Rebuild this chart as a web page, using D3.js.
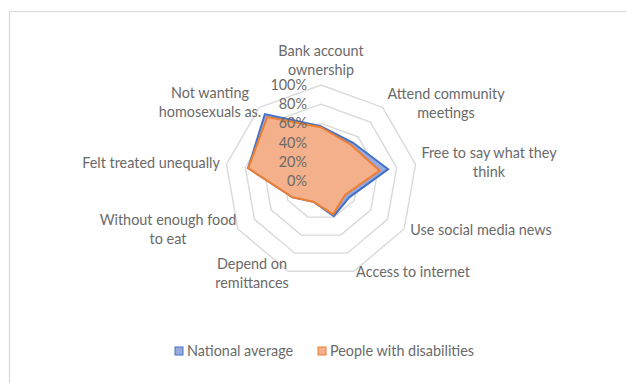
<!DOCTYPE html>
<meta charset="utf-8">
<title>Radar chart</title>
<style>
body { margin: 0; background: #fff; }
svg { font-family: Lato, "Open Sans", sans-serif; font-size: 14.4px; }
.grid { fill: none; stroke: #d9d9d9; stroke-width: 1.4px; }
.ring-label { fill: #6a6a6a; text-anchor: end; }
.cat-label { fill: #6a6a6a; text-anchor: middle; }
.legend text { fill: #6a6a6a; }
</style>
<body>
<script src="https://d3js.org/d3.v7.min.js"></script>
<script>

var categories = [
  "Bank account ownership",
  "Attend community meetings",
  "Free to say what they think",
  "Use social media news",
  "Access to internet",
  "Depend on remittances",
  "Without enough food to eat",
  "Felt treated unequally",
  "Not wanting homosexuals as."
];

// label lines as wrapped in the picture
var labelLines = [
  ["Bank account", "ownership"],
  ["Attend community", "meetings"],
  ["Free to say what they", "think"],
  ["Use social media news"],
  ["Access to internet"],
  ["Depend on", "remittances"],
  ["Without enough food", "to eat"],
  ["Felt treated unequally"],
  ["Not wanting", "homosexuals as."]
];

var nationalAverage = [0.57, 0.52, 0.71, 0.34, 0.39, 0.23, 0.34, 0.77, 0.91];
var disabilities    = [0.56, 0.49, 0.62, 0.29, 0.37, 0.23, 0.34, 0.77, 0.87];

var ringTicks = [0, 0.2, 0.4, 0.6, 0.8, 1.0];

var seriesNames = ["National average", "People with disabilities"];

var width = 626, height = 383;
var cx = 321, cy = 181, R = 96;

var svg = d3.select("body").append("svg")
    .attr("width", width)
    .attr("height", height);

// chart frame
svg.append("rect")
    .attr("x", 9.5).attr("y", 11.5)
    .attr("width", width + 20).attr("height", height + 20)
    .attr("fill", "none")
    .attr("stroke", "#d9d9d9")
    .attr("stroke-width", 1.2);

var g = svg.append("g")
    .attr("transform", "translate(" + cx + "," + cy + ")");

var r = d3.scaleLinear().domain([0, 1]).range([0, R]);

var angle = d3.scalePoint()
    .domain(d3.range(categories.length + 1))
    .range([0, 2 * Math.PI]);

function pt(i, v) {
  var a = angle(i);
  return [r(v) * Math.sin(a), -r(v) * Math.cos(a)];
}

var line = d3.line();

// grid rings
g.selectAll(".grid")
    .data(ringTicks.slice(1))
  .enter().append("path")
    .attr("class", "grid")
    .attr("d", function(t) {
      return line(categories.map(function(c, i) { return pt(i, t); })) + "Z";
    });

function seriesPath(vals) {
  return line(vals.map(function(v, i) { return pt(i, v); })) + "Z";
}

var series = [
  {name: seriesNames[0], values: nationalAverage, fill: "#98a9e0", stroke: "#4472c4"},
  {name: seriesNames[1], values: disabilities, fill: "#f4b08b", stroke: "#ed7d31"}
];

g.selectAll(".series")
    .data(series)
  .enter().append("path")
    .attr("class", "series")
    .attr("d", function(d) { return seriesPath(d.values); })
    .attr("fill", function(d) { return d.fill; })
    .attr("stroke", function(d) { return d.stroke; })
    .attr("stroke-width", 2)
    .attr("stroke-linejoin", "miter");

// ring labels
g.selectAll(".ring-label")
    .data(ringTicks)
  .enter().append("text")
    .attr("class", "ring-label")
    .attr("x", -14)
    .attr("y", function(t) { return -r(t); })
    .attr("dy", "0.35em")
    .text(d3.format(".0%"));

// category labels
var labelPos = [
  [321, 51], [446, 94], [489, 153], [481, 230], [413, 272],
  [252, 264], [168, 220], [151, 163], [210, 93]
];

var labels = svg.selectAll(".cat-label")
    .data(labelLines)
  .enter().append("text")
    .attr("class", "cat-label")
    .attr("transform", function(d, i) {
      return "translate(" + labelPos[i][0] + "," + labelPos[i][1] + ")";
    });

labels.selectAll("tspan")
    .data(function(d) { return d; })
  .enter().append("tspan")
    .attr("x", 0)
    .attr("y", function(d, j) { return j * 19; })
    .attr("dy", "0.35em")
    .text(function(d) { return d; });

// legend
var legend = svg.append("g").attr("class", "legend");
var legendX = [175, 318];
var item = legend.selectAll("g")
    .data(series)
  .enter().append("g")
    .attr("transform", function(d, i) { return "translate(" + legendX[i] + ",351)"; });

item.append("rect")
    .attr("x", 0).attr("y", -4)
    .attr("width", 8).attr("height", 8)
    .attr("fill", function(d) { return d.fill; })
    .attr("stroke", function(d) { return d.stroke; })
    .attr("stroke-width", 1);

item.append("text")
    .attr("x", 12)
    .attr("dy", "0.35em")
    .text(function(d) { return d.name; });

</script>
</body>
